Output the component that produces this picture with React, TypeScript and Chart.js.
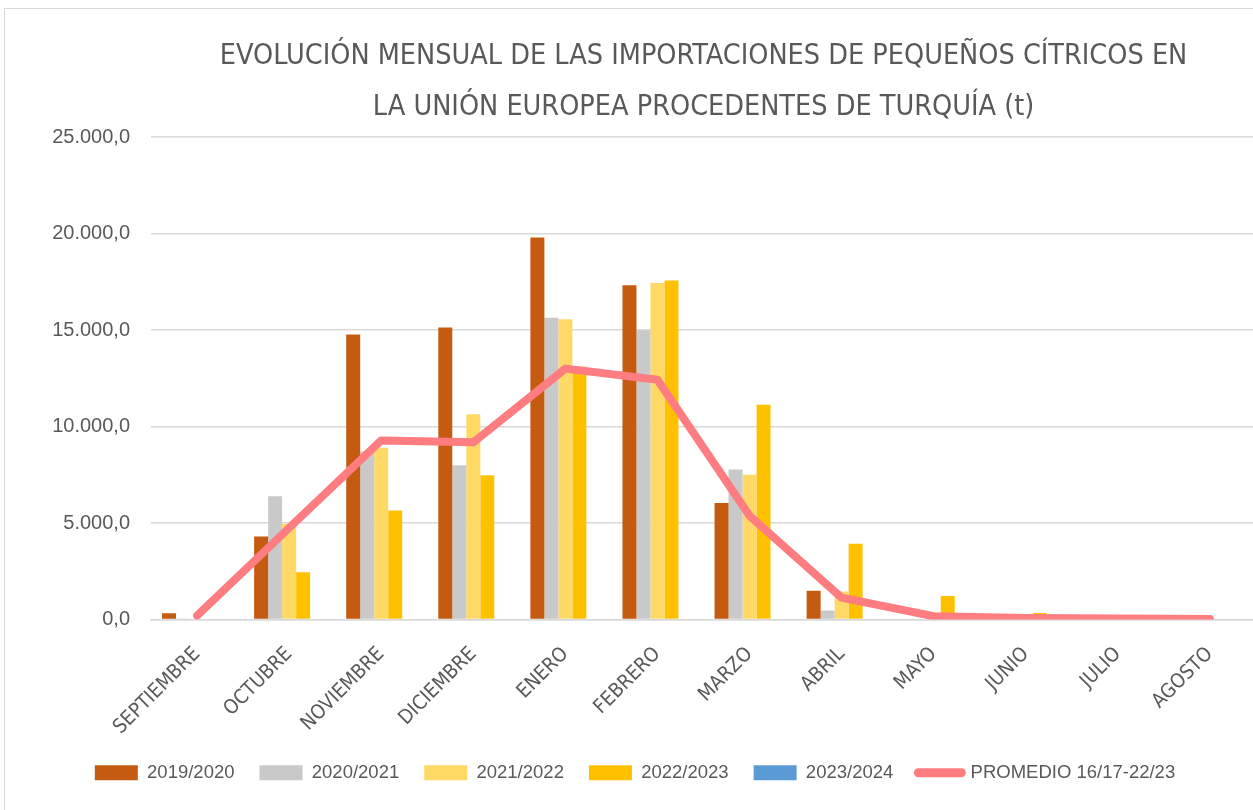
import React, { useEffect, useRef } from 'react';
import { Chart, registerables } from 'chart.js';

Chart.register(...registerables);

const categories = ['SEPTIEMBRE', 'OCTUBRE', 'NOVIEMBRE', 'DICIEMBRE', 'ENERO', 'FEBRERO', 'MARZO', 'ABRIL', 'MAYO', 'JUNIO', 'JULIO', 'AGOSTO'];
const serie2019 = [320, 4300, 14770, 15130, 19800, 17320, 6040, 1490, 0, 0, 0, 0];
const serie2020 = [50, 6380, 8700, 7990, 15630, 14990, 7770, 470, 0, 0, 0, 0];
const serie2021 = [0, 4960, 8900, 10630, 15560, 17440, 7500, 1450, 0, 0, 0, 0];
const serie2022 = [0, 2450, 5650, 7470, 13100, 17570, 11130, 3920, 1220, 340, 0, 40];
const serie2023: (number | null)[] = [null, null, null, null, null, null, null, null, null, null, null, null];
const promedio = [200, 4750, 9280, 9180, 13000, 12420, 5380, 1130, 170, 80, 50, 30];
const seriesLabels = ['2019/2020', '2020/2021', '2021/2022', '2022/2023', '2023/2024', 'PROMEDIO 16/17-22/23'];
const titleLines = ['EVOLUCIÓN MENSUAL DE LAS IMPORTACIONES DE PEQUEÑOS CÍTRICOS EN', 'LA UNIÓN EUROPEA PROCEDENTES DE TURQUÍA (t)'];

const NARROW = "'Liberation Sans Narrow', 'Arial Narrow', 'DejaVu Sans Condensed', sans-serif";
const SANS = "'Liberation Sans', Arial, sans-serif";
const TEXT = '#595959';
const GRID = '#D9D9D9';

const fmt = (v: number) => {
  const [i, d] = Number(v).toFixed(1).split('.');
  return i.replace(/\B(?=(\d{3})+(?!\d))/g, '.') + ',' + d;
};

const legendShift = {
  id: 'legendShift',
  afterLayout(chart: any) {
    if (chart.legend) {
      chart.legend.left += 14;
    }
  },
};

export default function App() {
  const ref = useRef<HTMLCanvasElement>(null);
  useEffect(() => {
    const chart = new Chart(ref.current!, {
      type: 'bar',
      data: {
        labels: categories,
        datasets: [
          { type: 'bar', label: seriesLabels[0], data: serie2019, backgroundColor: '#C55A11', order: 1 },
          { type: 'bar', label: seriesLabels[1], data: serie2020, backgroundColor: '#C9C9C9', order: 1 },
          { type: 'bar', label: seriesLabels[2], data: serie2021, backgroundColor: '#FFD966', order: 1 },
          { type: 'bar', label: seriesLabels[3], data: serie2022, backgroundColor: '#FFC000', order: 1 },
          { type: 'bar', label: seriesLabels[4], data: serie2023, backgroundColor: '#5B9BD5', order: 1 },
          {
            type: 'line', label: seriesLabels[5], data: promedio, borderColor: '#FF7C80', backgroundColor: '#FF7C80',
            borderWidth: 8, pointRadius: 0, borderJoinStyle: 'round', borderCapStyle: 'round', tension: 0, order: 0,
          },
        ],
      } as any,
      plugins: [legendShift],
      options: {
        responsive: false,
        animation: false,
        layout: { padding: { top: 0, left: 0, right: 9, bottom: 18 } },
        datasets: { bar: { barPercentage: 1, categoryPercentage: 0.76 } } as any,
        plugins: {
          title: {
            display: true,
            fullSize: false,
            text: titleLines,
            color: TEXT,
            font: { family: NARROW, size: 28.5, weight: 'normal', lineHeight: 1.79 },
            padding: { top: 31.5, bottom: 3.5 },
          },
          legend: {
            position: 'bottom',
            labels: {
              usePointStyle: true,
              pointStyleWidth: 43,
              boxHeight: 15,
              padding: 25,
              color: TEXT,
              font: { family: SANS, size: 18.5 },
              sort: (a: any, b: any) => a.datasetIndex - b.datasetIndex,
              generateLabels: (c: any) => {
                const items = (Chart.defaults.plugins.legend.labels as any).generateLabels(c);
                return items.map((it: any) => {
                  const ds = c.data.datasets[it.datasetIndex];
                  if (ds.type === 'line') {
                    return { ...it, pointStyle: 'line', lineWidth: 9, lineCap: 'round', strokeStyle: '#FF7C80' };
                  }
                  return { ...it, pointStyle: 'rect', lineWidth: 0 };
                });
              },
            },
          },
          tooltip: { enabled: false },
        },
        scales: {
          x: {
            grid: { display: false, drawTicks: false },
            border: { color: GRID, width: 1.5 },
            ticks: { color: TEXT, font: { family: NARROW, size: 20 }, minRotation: 45, maxRotation: 45, autoSkip: false, padding: 23 },
            afterFit: (s: any) => { s.height = 119; },
          },
          y: {
            min: 0,
            max: 25000,
            ticks: { stepSize: 5000, callback: (v: any) => fmt(v), color: TEXT, font: { family: SANS, size: 20 }, padding: 21 },
            grid: { color: GRID, lineWidth: 1.5, drawTicks: false },
            border: { display: false },
            afterFit: (s: any) => { s.width = 151; },
          },
        },
      } as any,
    });
    return () => chart.destroy();
  }, []);

  return (
    <div style={{ position: 'absolute', left: 0, top: 0, width: 1253, height: 810, overflow: 'hidden', background: '#fff' }}>
      <div style={{ position: 'absolute', left: 4, top: 8, width: 1300, height: 850, border: `1px solid ${GRID}`, boxSizing: 'border-box' }} />
      <canvas ref={ref} width={1265} height={810} style={{ position: 'absolute', left: 0, top: 0 }} />
    </div>
  );
}
